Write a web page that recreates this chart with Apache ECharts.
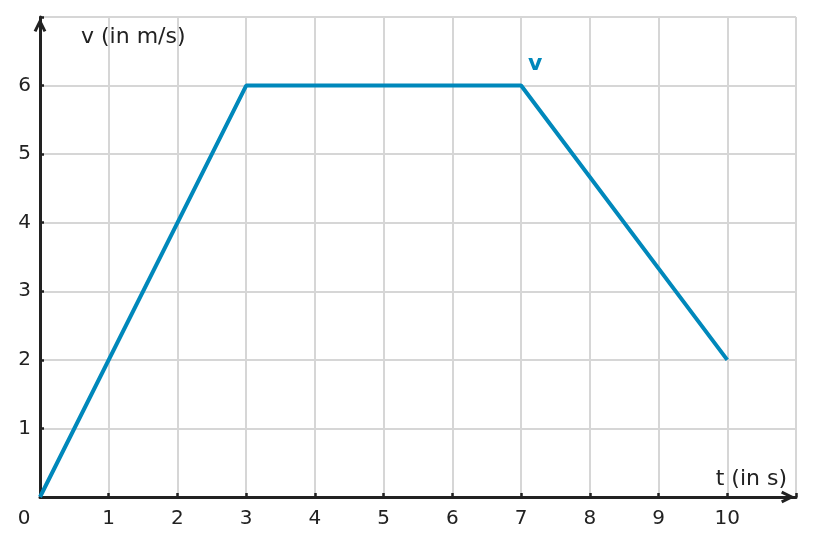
<!DOCTYPE html>
<html>
<head>
<meta charset="utf-8">
<script src="https://cdn.jsdelivr.net/npm/echarts@6/dist/echarts.min.js"></script>
<style>
  html, body { margin: 0; padding: 0; background: #fff; }
  #chart { width: 814px; height: 546px; }
</style>
</head>
<body>
<div id="chart"></div>
<script>
// Geschwindigkeit v über der Zeit t
const times = [0, 3, 7, 10];
const speeds = [0, 6, 6, 2];
const xTicks = [0, 1, 2, 3, 4, 5, 6, 7, 8, 9, 10];
const yTicks = [1, 2, 3, 4, 5, 6];
const seriesName = 'v';

const chart = echarts.init(document.getElementById('chart'));

const ink = '#222222';
const blue = '#0088bb';
const font = 'DejaVu Sans';
// dicke Pfeilspitze (zeigt nach oben, wird von der Achse gedreht)
const arrowPath = 'path://M6,0 L12,12 L9.4,13.3 L6,6.2 L2.6,13.3 L0,12 Z';

const points = times.map((t, i) => {
  const p = { value: [t, speeds[i]] };
  if (i === 2) {
    p.label = {
      show: true,
      formatter: seriesName,
      position: 'top',
      offset: [14, -5],
      color: blue,
      fontWeight: 'bold',
      fontSize: 22,
      fontFamily: font
    };
  }
  return p;
});

chart.setOption({
  animation: false,
  backgroundColor: '#fff',
  grid: { left: 40, right: 18, top: 17, bottom: 49 },
  xAxis: {
    type: 'value',
    min: 0,
    max: 11,
    interval: 1,
    name: 't (in s)',
    nameLocation: 'end',
    nameGap: -9,
    nameTextStyle: {
      color: ink, fontSize: 22, fontFamily: font,
      align: 'right', verticalAlign: 'bottom', padding: [0, 0, 7, 0]
    },
    axisLine: {
      show: true,
      lineStyle: { color: ink, width: 3 },
      symbol: ['none', arrowPath],
      symbolSize: [13, 14],
      symbolOffset: [0, -8]
    },
    axisTick: { show: true, inside: true, length: 4, lineStyle: { color: ink, width: 2.5 } },
    axisLabel: {
      color: ink, fontSize: 20, fontFamily: font, margin: 12,
      formatter: v => {
        if (!xTicks.includes(v)) return '';
        return v === 0 ? '{z|0}' : String(v);
      },
      rich: { z: { color: ink, fontSize: 20, fontFamily: font, padding: [0, 32, 0, 0] } }
    },
    splitLine: { show: true, lineStyle: { color: '#d6d6d6', width: 2 } }
  },
  yAxis: {
    type: 'value',
    min: 0,
    max: 7,
    interval: 1,
    name: 'v (in m/s)',
    nameLocation: 'end',
    nameGap: -20,
    nameTextStyle: {
      color: ink, fontSize: 22, fontFamily: font,
      align: 'left', verticalAlign: 'middle', padding: [0, 0, 0, 41]
    },
    axisLine: {
      show: true,
      lineStyle: { color: ink, width: 3 },
      symbol: ['none', arrowPath],
      symbolSize: [13, 14],
      symbolOffset: [0, -8]
    },
    axisTick: { show: true, inside: true, length: 4, lineStyle: { color: ink, width: 2.5 } },
    axisLabel: {
      color: ink, fontSize: 20, fontFamily: font, margin: 9,
      formatter: v => (yTicks.includes(v) ? String(v) : '')
    },
    splitLine: { show: true, lineStyle: { color: '#d6d6d6', width: 2 } }
  },
  series: [
    {
      name: seriesName,
      type: 'line',
      data: points,
      symbol: 'circle',
      symbolSize: 0,
      showSymbol: true,
      lineStyle: { color: blue, width: 4 },
      itemStyle: { color: blue },
      z: 5
    }
  ]
});
</script>
</body>
</html>
